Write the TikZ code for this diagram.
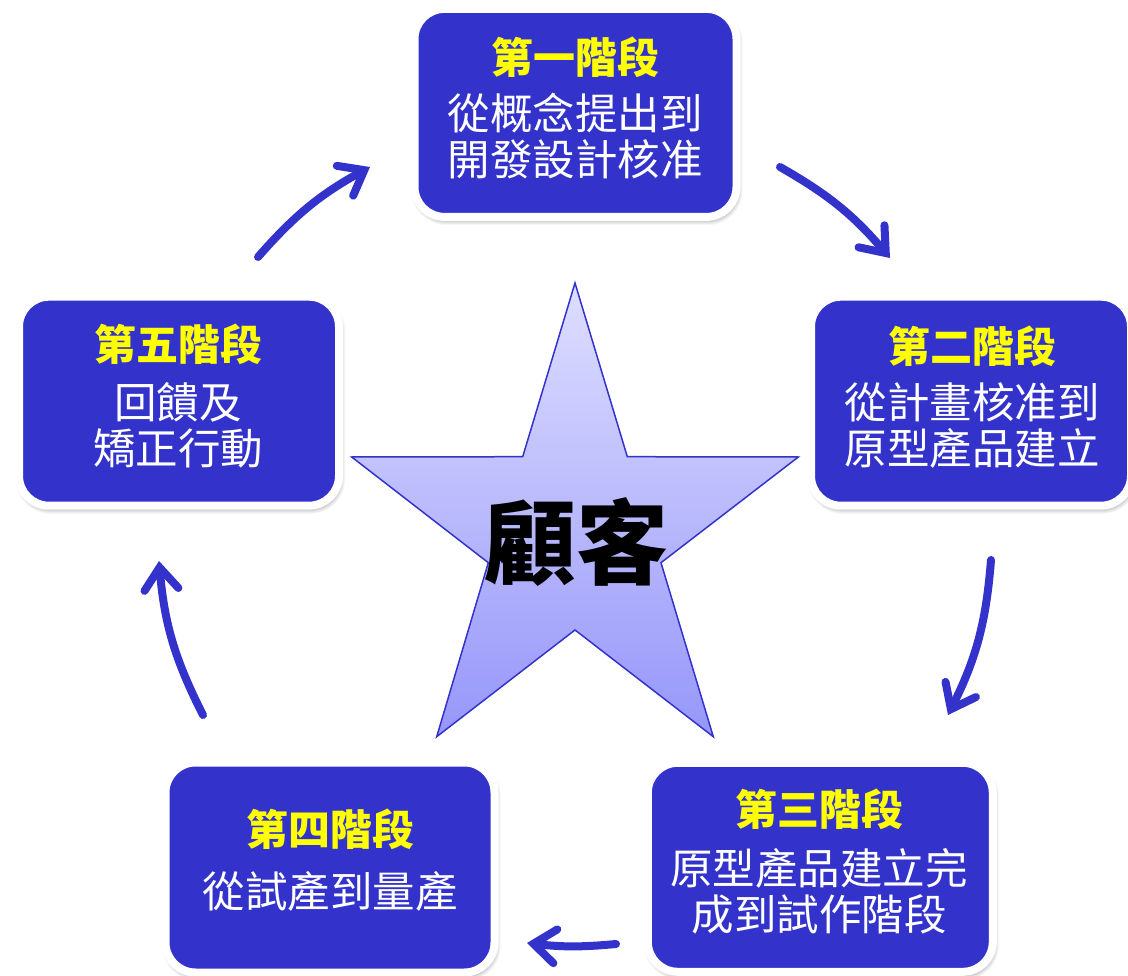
\documentclass[tikz,border=0pt]{standalone}
\usepackage{fontspec}
\newfontfamily\cjk{Noto Sans CJK TC}
\usetikzlibrary{arrows.meta,shadows.blur}
\definecolor{boxblue}{RGB}{51,51,204}
\definecolor{startop}{RGB}{222,222,255}
\definecolor{starbot}{RGB}{150,150,250}
\definecolor{ttlyellow}{RGB}{255,255,0}
\begin{document}
\begin{tikzpicture}[x=1pt,y=1pt,
  stage/.style={draw=white,line width=8pt,fill=boxblue,rounded corners=30pt,inner sep=0pt,
    blur shadow={shadow xshift=1.5pt,shadow yshift=-3.5pt,shadow blur steps=8,shadow blur radius=5pt,shadow opacity=45}},
  ttl/.style={text=ttlyellow,font=\cjk\bfseries\fontsize{42}{46}\selectfont,inner sep=0pt},
  body/.style={text=white,font=\cjk\fontsize{42.5}{46}\selectfont,align=center,inner sep=0pt},
  arr/.style={draw=boxblue,line width=8pt,line cap=round,
    -{Straight Barb[length=22pt,width=34pt,line cap=round]}},
  startxt/.style={font=\cjk\bfseries\fontsize{92}{92}\selectfont,text=black,inner sep=0pt}
]
\useasboundingbox (0,0) rectangle (1128,-976);

% star
\draw[draw=boxblue,line width=1.5pt,top color=startop,bottom color=starbot]
  (575,-283) -- (627.3,-456.7) -- (798.3,-457) -- (661,-562.7) -- (713.3,-736.7)
  -- (575,-630) -- (436.7,-736.7) -- (488.3,-562.7) -- (351.7,-457) -- (522.7,-456.7) -- cycle;
\node[startxt] (cust) at (576,-542) {顧客};

% stage boxes
\node[stage,minimum width=322pt,minimum height=208pt] (b1) at (575.5,-112.9) {};
\node[stage,minimum width=320pt,minimum height=209pt] (b2) at (971,-401.2) {};
\node[stage,minimum width=345pt,minimum height=209pt] (b3) at (820.3,-867.3) {};
\node[stage,minimum width=329pt,minimum height=210pt] (b4) at (330,-867.5) {};
\node[stage,minimum width=320pt,minimum height=209pt] (b5) at (179,-401.2) {};

% texts
\node[ttl] (t1) at (575,-57) {第一階段};
\node[body] (d1) at (575,-136) {從概念提出到\\開發設計核准};
\node[ttl] (t2) at (972,-346) {第二階段};
\node[body] (d2) at (972,-425) {從計畫核准到\\原型產品建立};
\node[ttl] (t3) at (819,-809) {第三階段};
\node[body] (d3) at (819,-891.5) {原型產品建立完\\成到試作階段};
\node[ttl] (t4) at (330,-829) {第四階段};
\node[body] (d4) at (330,-891.7) {從試產到量產};
\node[ttl] (t5) at (178,-344) {第五階段};
\node[body] (d5) at (178,-425) {回饋及\\矯正行動};

% arrows
\coordinate (s1) at (780,-167);
\coordinate (e1) at (890,-258);
\coordinate (s2) at (991,-560);
\coordinate (e2) at (948,-715);
\coordinate (s3) at (616,-944);
\coordinate (e3) at (527,-943);
\coordinate (s4) at (203,-715);
\coordinate (e4) at (159,-561);
\coordinate (s5) at (258,-257);
\coordinate (e5) at (370,-167);
\draw[arr] (s1) to[bend left=10] (e1);
\draw[arr] (s2) to[bend left=11] (e2);
\draw[arr] (s3) to[bend left=6] (e3);
\draw[arr] (s4) to[bend left=11] (e4);
\draw[arr] (s5) to[bend left=10] (e5);
\end{tikzpicture}
\end{document}
